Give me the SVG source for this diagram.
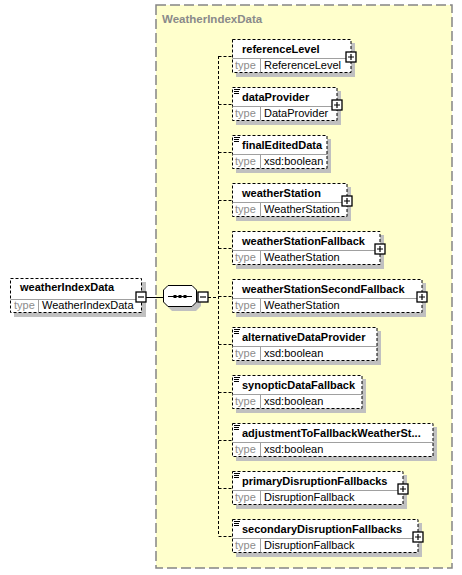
<svg xmlns="http://www.w3.org/2000/svg" width="462" height="575" viewBox="0 0 462 575">
<defs>
<style>
.bg{fill:#ffffff}
.area{fill:#ffffcc;stroke:#858585;stroke-width:1.5;stroke-dasharray:10,4}
.atitle{font-family:"Liberation Sans",Arial,sans-serif;font-size:11.5px;font-weight:bold;fill:#8a8a8a}
.sh{fill:#c0c0c0}
.box{fill:#ffffff;stroke:#000000;stroke-width:1;stroke-dasharray:3,2}
.div{stroke:#a0a0a0;stroke-width:1;fill:none}
.nm{font-family:"Liberation Sans",Arial,sans-serif;font-size:11px;font-weight:bold;fill:#000000}
.tl{font-family:"Liberation Sans",Arial,sans-serif;font-size:11px;fill:#8c8c8c}
.tv{font-family:"Liberation Sans",Arial,sans-serif;font-size:11px;fill:#000000}
.pm{fill:#ffffff;stroke:#000000;stroke-width:1.3}
.pl{stroke:#000000;stroke-width:1.2;fill:none}
.doc{stroke:#000000;stroke-width:1;fill:none}
.dash{stroke:#000000;stroke-width:1;stroke-dasharray:3,2;fill:none}
.solid{stroke:#000000;stroke-width:1;fill:none}
</style>
<g id="plus"><rect class="pm" x="-5" y="0" width="10" height="10"/><path class="pl" d="M-3,5H3M0,2V8"/></g>
<g id="docicon"><path class="doc" d="M2,2.5H8M2,4.5H7M2,6.5H7"/></g>
</defs>
<rect class="bg" x="0" y="0" width="462" height="575"/>
<g id="WeatherIndexData-area">
<rect class="area" x="156" y="5" width="296" height="563"/>
<text class="atitle" x="162" y="23">WeatherIndexData</text>
</g>
<g id="connectors">
<path class="solid" d="M146,297.5H163"/>
<path class="dash" d="M208,297.5H218.5"/>
<path class="dash" d="M218.5,56V536"/>
<path class="dash" d="M218.5,56.5H232M218.5,104.5H232M218.5,152.5H232M218.5,200.5H232M218.5,248.5H232M218.5,296.5H232M218.5,344.5H232M218.5,392.5H232M218.5,440.5H232M218.5,488.5H232M218.5,536.5H232"/>
</g>
<g id="weatherIndexData" transform="translate(10,278)">
<rect class="sh" x="4" y="4" width="132" height="35"/>
<rect class="box" x="0.5" y="0.5" width="131" height="34"/>
<path class="div" d="M0.5,21.5H131.5M28.5,21.5V34.5"/>
<text class="nm" x="10" y="13">weatherIndexData</text>
<text class="tl" x="4" y="31">type</text>
<text class="tv" x="32" y="31">WeatherIndexData</text>
<rect class="pm" x="126" y="14" width="10" height="10"/>
<path class="pl" d="M128,19H134"/>
</g>
<g id="sequence" transform="translate(163,285)">
<path class="sh" d="M9,4H29L38,9V21L33,26H9L4,21V9Z"/>
<path d="M5,0.5H29L33.5,5V17L29,21.5H5L0.5,17V5Z" fill="#ffffff" stroke="#000000" stroke-width="1"/>
<path class="solid" d="M5,11.5H29"/>
<rect x="10.5" y="10" width="3" height="3" fill="#000"/>
<rect x="15.5" y="10" width="3" height="3" fill="#000"/>
<rect x="20.5" y="10" width="3" height="3" fill="#000"/>
<rect class="pm" x="35" y="7" width="10" height="10"/>
<path class="pl" d="M37,12H43"/>
</g>
<g id="referenceLevel" transform="translate(232,39)">
<rect class="sh" x="4" y="4" width="119" height="34"/>
<rect class="box" x="0.5" y="0.5" width="118.5" height="33"/>
<path class="div" d="M0.5,19.5H119M28.5,19.5V33.5"/>
<text class="nm" x="10" y="13.5">referenceLevel</text>
<text class="tl" x="3" y="30">type</text>
<text class="tv" x="32" y="30">ReferenceLevel</text>
<use href="#plus" x="119" y="13"/>
</g>
<g id="dataProvider" transform="translate(232,87)">
<rect class="sh" x="4" y="4" width="105" height="34"/>
<rect class="box" x="0.5" y="0.5" width="104.5" height="33"/>
<path class="div" d="M0.5,19.5H105M28.5,19.5V33.5"/>
<use href="#docicon"/>
<text class="nm" x="10" y="13.5">dataProvider</text>
<text class="tl" x="3" y="30">type</text>
<text class="tv" x="32" y="30">DataProvider</text>
<use href="#plus" x="105" y="13"/>
</g>
<g id="finalEditedData" transform="translate(232,135)">
<rect class="sh" x="4" y="4" width="95" height="34"/>
<rect class="box" x="0.5" y="0.5" width="94.5" height="33"/>
<path class="div" d="M0.5,19.5H95M28.5,19.5V33.5"/>
<use href="#docicon"/>
<text class="nm" x="10" y="13.5">finalEditedData</text>
<text class="tl" x="3" y="30">type</text>
<text class="tv" x="32" y="30">xsd:boolean</text>
</g>
<g id="weatherStation" transform="translate(232,183)">
<rect class="sh" x="4" y="4" width="115" height="34"/>
<rect class="box" x="0.5" y="0.5" width="114.5" height="33"/>
<path class="div" d="M0.5,19.5H115M28.5,19.5V33.5"/>
<text class="nm" x="10" y="13.5">weatherStation</text>
<text class="tl" x="3" y="30">type</text>
<text class="tv" x="32" y="30">WeatherStation</text>
<use href="#plus" x="115" y="13"/>
</g>
<g id="weatherStationFallback" transform="translate(232,231)">
<rect class="sh" x="4" y="4" width="148" height="34"/>
<rect class="box" x="0.5" y="0.5" width="147.5" height="33"/>
<path class="div" d="M0.5,19.5H148M28.5,19.5V33.5"/>
<text class="nm" x="10" y="13.5">weatherStationFallback</text>
<text class="tl" x="3" y="30">type</text>
<text class="tv" x="32" y="30">WeatherStation</text>
<use href="#plus" x="148" y="13"/>
</g>
<g id="weatherStationSecondFallback" transform="translate(232,279)">
<rect class="sh" x="4" y="4" width="190" height="34"/>
<rect class="box" x="0.5" y="0.5" width="189.5" height="33"/>
<path class="div" d="M0.5,19.5H190M28.5,19.5V33.5"/>
<text class="nm" x="10" y="13.5">weatherStationSecondFallback</text>
<text class="tl" x="3" y="30">type</text>
<text class="tv" x="32" y="30">WeatherStation</text>
<use href="#plus" x="190" y="13"/>
</g>
<g id="alternativeDataProvider" transform="translate(232,327)">
<rect class="sh" x="4" y="4" width="145" height="34"/>
<rect class="box" x="0.5" y="0.5" width="144.5" height="33"/>
<path class="div" d="M0.5,19.5H145M28.5,19.5V33.5"/>
<use href="#docicon"/>
<text class="nm" x="10" y="13.5">alternativeDataProvider</text>
<text class="tl" x="3" y="30">type</text>
<text class="tv" x="32" y="30">xsd:boolean</text>
</g>
<g id="synopticDataFallback" transform="translate(232,375)">
<rect class="sh" x="4" y="4" width="130" height="34"/>
<rect class="box" x="0.5" y="0.5" width="129.5" height="33"/>
<path class="div" d="M0.5,19.5H130M28.5,19.5V33.5"/>
<use href="#docicon"/>
<text class="nm" x="10" y="13.5">synopticDataFallback</text>
<text class="tl" x="3" y="30">type</text>
<text class="tv" x="32" y="30">xsd:boolean</text>
</g>
<g id="adjustmentToFallbackWeatherStation" transform="translate(232,423)">
<rect class="sh" x="4" y="4" width="201" height="34"/>
<rect class="box" x="0.5" y="0.5" width="200.5" height="33"/>
<path class="div" d="M0.5,19.5H201M28.5,19.5V33.5"/>
<use href="#docicon"/>
<text class="nm" x="10" y="13.5">adjustmentToFallbackWeatherSt...</text>
<text class="tl" x="3" y="30">type</text>
<text class="tv" x="32" y="30">xsd:boolean</text>
</g>
<g id="primaryDisruptionFallbacks" transform="translate(232,471)">
<rect class="sh" x="4" y="4" width="171" height="34"/>
<rect class="box" x="0.5" y="0.5" width="170.5" height="33"/>
<path class="div" d="M0.5,19.5H171M28.5,19.5V33.5"/>
<use href="#docicon"/>
<text class="nm" x="10" y="13.5">primaryDisruptionFallbacks</text>
<text class="tl" x="3" y="30">type</text>
<text class="tv" x="32" y="30">DisruptionFallback</text>
<use href="#plus" x="171" y="13"/>
</g>
<g id="secondaryDisruptionFallbacks" transform="translate(232,519)">
<rect class="sh" x="4" y="4" width="186" height="34"/>
<rect class="box" x="0.5" y="0.5" width="185.5" height="33"/>
<path class="div" d="M0.5,19.5H186M28.5,19.5V33.5"/>
<use href="#docicon"/>
<text class="nm" x="10" y="13.5">secondaryDisruptionFallbacks</text>
<text class="tl" x="3" y="30">type</text>
<text class="tv" x="32" y="30">DisruptionFallback</text>
<use href="#plus" x="186" y="13"/>
</g>
</svg>
